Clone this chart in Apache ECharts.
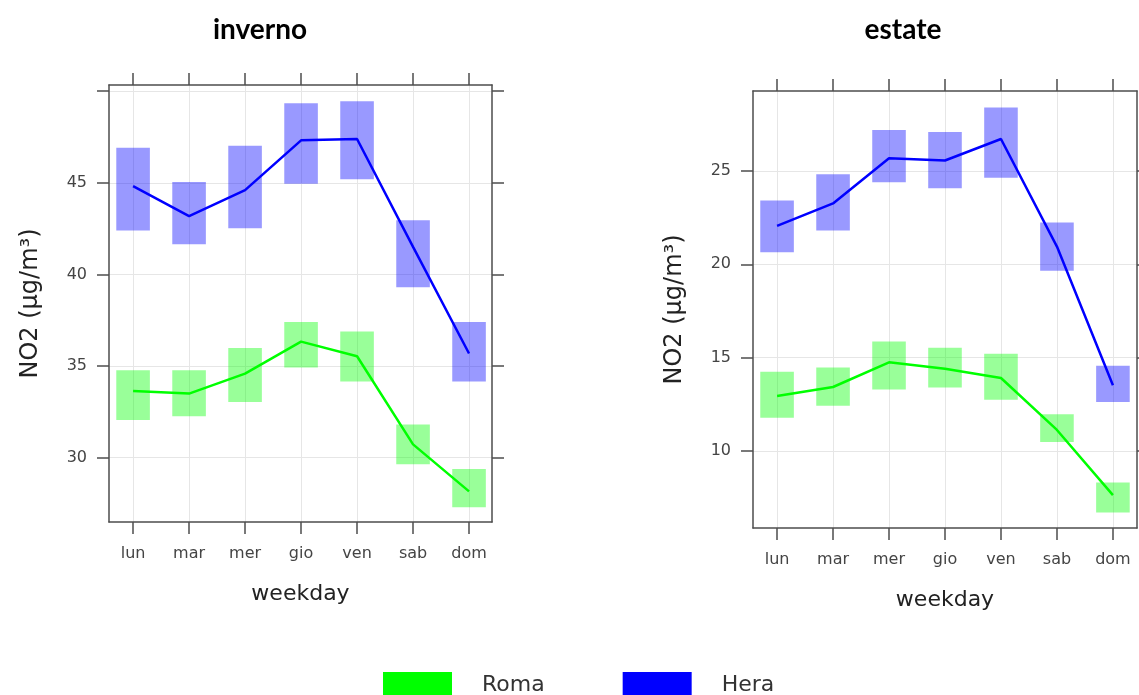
<!DOCTYPE html>
<html>
<head>
<meta charset="utf-8">
<script src="https://cdn.jsdelivr.net/npm/echarts@6/dist/echarts.min.js"></script>
<style>html,body{margin:0;padding:0;background:#fff}#c{width:1139px;height:695px}</style>
</head>
<body>
<div id="c"></div>
<script>
// ---- data ----
const days = ['lun', 'mar', 'mer', 'gio', 'ven', 'sab', 'dom'];
const panelTitles = ['inverno', 'estate'];
const seriesNames = ['Roma', 'Hera'];

const invernoRomaMean = [33.63, 33.49, 34.58, 36.33, 35.53, 30.72, 28.15];
const invernoRomaLow  = [32.05, 32.25, 33.03, 34.91, 34.15, 29.63, 27.29];
const invernoRomaHigh = [34.77, 34.77, 35.98, 37.40, 36.88, 31.80, 29.37];
const invernoHeraMean = [44.82, 43.18, 44.60, 47.32, 47.39, 41.50, 35.68];
const invernoHeraLow  = [42.40, 41.65, 42.52, 44.95, 45.19, 39.30, 34.15];
const invernoHeraHigh = [46.91, 45.04, 47.02, 49.34, 49.45, 42.95, 37.40];

const estateRomaMean = [12.95, 13.43, 14.75, 14.41, 13.91, 11.13, 7.64];
const estateRomaLow  = [11.79, 12.42, 13.29, 13.40, 12.75, 10.48, 6.71];
const estateRomaHigh = [14.25, 14.47, 15.86, 15.53, 15.21, 11.97, 8.32];
const estateHeraMean = [22.06, 23.26, 25.68, 25.56, 26.71, 20.95, 13.52];
const estateHeraLow  = [20.64, 21.81, 24.40, 24.07, 24.63, 19.65, 12.63];
const estateHeraHigh = [23.42, 24.82, 27.19, 27.09, 28.39, 22.24, 14.57];

const invernoYTicks = [30, 35, 40, 45, 50];
const invernoYLabels = [30, 35, 40, 45];
const estateYTicks = [10, 15, 20, 25];
const estateYLabels = [10, 15, 20, 25];
const xPositions = [1, 2, 3, 4, 5, 6, 7];

// ---- styling ----
const lineColors = { Roma: '#00ff00', Hera: '#0000ff' };
const bandColors = { Roma: 'rgba(0,255,0,0.4)', Hera: 'rgba(0,0,255,0.4)' };
const axisCol = '#4d4d4d';
const gridCol = '#e6e6e6';
const FONT = 'DejaVu Sans';

function bandData(lo, hi) { return xPositions.map((x, i) => [x, lo[i], hi[i]]); }
function lineData(m) { return xPositions.map((x, i) => [x, m[i]]); }

function bandSeries(name, lo, hi, idx) {
  return {
    name: name, type: 'custom', xAxisIndex: idx * 2, yAxisIndex: idx * 2, z: 2,
    data: bandData(lo, hi),
    renderItem: function (params, api) {
      const x = api.value(0), l = api.value(1), h = api.value(2);
      const p1 = api.coord([x, h]);
      const p2 = api.coord([x, l]);
      const w = api.size([0.6, 0])[0];
      return { type: 'rect', shape: { x: p1[0] - w / 2, y: p1[1], width: w, height: p2[1] - p1[1] },
               style: { fill: bandColors[name] } };
    }
  };
}
function lineSeries(name, m, idx) {
  return {
    name: name, type: 'line', xAxisIndex: idx * 2, yAxisIndex: idx * 2, z: 5,
    data: lineData(m), symbol: 'none', silent: true,
    lineStyle: { color: lineColors[name], width: 2.5 }, itemStyle: { color: lineColors[name] }
  };
}

const grids = [
  { left: 109, top: 85, width: 383, height: 437 },
  { left: 753, top: 91, width: 384, height: 437 }
];
const xRanges = [[0.57, 7.41], [0.57, 7.43]];
const yRanges = [[26.48, 50.34], [5.88, 29.28]];
const yTicks = [invernoYTicks, estateYTicks];
const yLabs = [invernoYLabels, estateYLabels];

const xAxes = [], yAxes = [];
for (let g = 0; g < 2; g++) {
  xAxes.push({
    type: 'value', gridIndex: g, position: 'bottom', min: xRanges[g][0], max: xRanges[g][1],
    name: 'weekday', nameLocation: 'middle', nameGap: 61,
    nameTextStyle: { fontFamily: FONT, fontSize: 22, color: '#222' },
    axisLine: { show: true, onZero: false, lineStyle: { color: axisCol, width: 1.5 } },
    axisTick: { show: true, length: 12, customValues: xPositions, lineStyle: { color: axisCol, width: 1.5 } },
    axisLabel: { customValues: xPositions, margin: 24, fontFamily: FONT, fontSize: 16, color: '#444',
                 formatter: v => days[Math.round(v) - 1] },
    splitLine: { show: true, lineStyle: { color: gridCol, width: 1 } }
  });
  xAxes.push({
    type: 'value', gridIndex: g, position: 'top', min: xRanges[g][0], max: xRanges[g][1],
    axisLine: { show: true, onZero: false, lineStyle: { color: axisCol, width: 1.5 } },
    axisTick: { show: true, length: 12, customValues: xPositions, lineStyle: { color: axisCol, width: 1.5 } },
    axisLabel: { show: false }, splitLine: { show: false }
  });
  yAxes.push({
    type: 'value', gridIndex: g, position: 'left', min: yRanges[g][0], max: yRanges[g][1],
    name: 'NO2 (µg/m³)', nameLocation: 'middle', nameGap: 66, nameRotate: 90,
    nameTextStyle: { fontFamily: FONT, fontSize: 24, color: '#222' },
    axisLine: { show: true, onZero: false, lineStyle: { color: axisCol, width: 1.5 } },
    axisTick: { show: true, length: 12, customValues: yTicks[g], lineStyle: { color: axisCol, width: 1.5 } },
    axisLabel: { customValues: yLabs[g], margin: 22, fontFamily: FONT, fontSize: 16, color: '#444' },
    splitLine: { show: true, lineStyle: { color: gridCol, width: 1 } }
  });
  yAxes.push({
    type: 'value', gridIndex: g, position: 'right', min: yRanges[g][0], max: yRanges[g][1],
    axisLine: { show: true, onZero: false, lineStyle: { color: axisCol, width: 1.5 } },
    axisTick: { show: true, length: 12, customValues: yTicks[g], lineStyle: { color: axisCol, width: 1.5 } },
    axisLabel: { show: false }, splitLine: { show: false }
  });
}

const option = {
  animation: false,
  backgroundColor: '#fff',
  title: [
    { text: panelTitles[0], left: 255, top: 11, textAlign: 'center',
      textStyle: { fontFamily: 'Lato', fontWeight: 'bold', fontSize: 28, color: '#000' } },
    { text: panelTitles[1], left: 898, top: 11, textAlign: 'center',
      textStyle: { fontFamily: 'Lato', fontWeight: 'bold', fontSize: 28, color: '#000' } }
  ],
  legend: {
    left: 378, top: 667, icon: 'rect', itemWidth: 69, itemHeight: 26, itemGap: 78,
    selectedMode: false,
    textStyle: { fontFamily: FONT, fontSize: 22, color: '#333', padding: [0, 0, 0, 25] },
    data: seriesNames.map(n => ({ name: n, itemStyle: { color: lineColors[n], opacity: 1 } }))
  },
  grid: grids,
  xAxis: xAxes,
  yAxis: yAxes,
  series: [
    bandSeries('Hera', invernoHeraLow, invernoHeraHigh, 0),
    bandSeries('Roma', invernoRomaLow, invernoRomaHigh, 0),
    lineSeries('Hera', invernoHeraMean, 0),
    lineSeries('Roma', invernoRomaMean, 0),
    bandSeries('Hera', estateHeraLow, estateHeraHigh, 1),
    bandSeries('Roma', estateRomaLow, estateRomaHigh, 1),
    lineSeries('Hera', estateHeraMean, 1),
    lineSeries('Roma', estateRomaMean, 1)
  ]
};
echarts.init(document.getElementById('c')).setOption(option);
</script>
</body>
</html>
